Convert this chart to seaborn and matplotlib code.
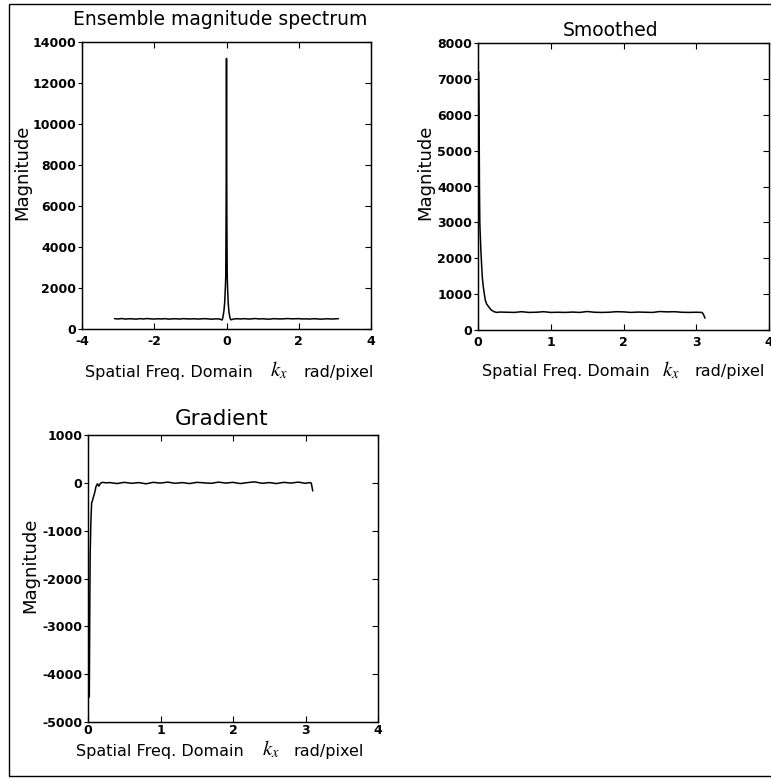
import matplotlib
matplotlib.use('Agg')
import matplotlib.pyplot as plt
import seaborn as sns
from matplotlib.patches import Rectangle

# ---- data ----
# ensemble magnitude spectrum (full band, -pi..pi)
ens_left_x = [-3.1, -3.0, -2.9, -2.8, -2.7, -2.6, -2.5, -2.4, -2.3, -2.2, -2.1, -2.0, -1.9, -1.8,
              -1.7, -1.6, -1.5, -1.4, -1.3, -1.2, -1.1, -1.0, -0.9, -0.8, -0.7, -0.6, -0.5, -0.4, -0.3]
ens_left_y = [505, 490, 510, 485, 500, 495, 480, 505, 490, 510, 495, 485, 500, 490,
              505, 480, 495, 500, 485, 505, 495, 490, 500, 485, 495, 505, 490, 480, 495]
ens_peak_x = [-0.2, -0.15, -0.12, -0.1, -0.07, -0.05, -0.03, -0.02, -0.01, 0.0,
              0.01, 0.02, 0.03, 0.05, 0.07, 0.1, 0.12, 0.15, 0.2]
ens_peak_y = [490, 460, 440, 560, 900, 1300, 2100, 2600, 6000, 13200,
              5500, 2600, 2000, 1200, 800, 520, 450, 460, 490]
ens_right_x = [0.3, 0.4, 0.5, 0.6, 0.7, 0.8, 0.9, 1.0, 1.1, 1.2, 1.3, 1.4, 1.5, 1.6,
               1.7, 1.8, 1.9, 2.0, 2.1, 2.2, 2.3, 2.4, 2.5, 2.6, 2.7, 2.8, 2.9, 3.0, 3.1]
ens_right_y = [500, 490, 505, 485, 495, 510, 490, 500, 485, 480, 505, 495, 490, 500,
               510, 495, 500, 505, 490, 495, 485, 500, 495, 480, 490, 500, 485, 495, 505]

# flat part grid shared by the one-sided curves
flat_x = [0.3, 0.4, 0.5, 0.6, 0.7, 0.8, 0.9, 1.0, 1.1, 1.2, 1.3, 1.4, 1.5, 1.6,
          1.7, 1.8, 1.9, 2.0, 2.1, 2.2, 2.3, 2.4, 2.5, 2.6, 2.7, 2.8, 2.9, 3.0]

# smoothed spectrum
sm_head_x = [0.01, 0.015, 0.02, 0.025, 0.03, 0.04, 0.05, 0.06, 0.07, 0.08,
             0.1, 0.12, 0.15, 0.18, 0.22, 0.26]
sm_head_y = [7200, 6000, 4000, 3000, 2700, 2200, 1800, 1450, 1250, 1100,
             830, 720, 640, 560, 510, 490]
sm_flat_y = [500, 495, 490, 510, 490, 495, 510, 490, 495, 490, 500, 490, 515, 495,
             490, 495, 510, 505, 490, 500, 495, 490, 515, 505, 510, 495, 490, 495]
sm_tail_x = [3.08, 3.1, 3.12]
sm_tail_y = [490, 430, 330]

# gradient of the smoothed spectrum
gr_head_x = [0.018, 0.025, 0.03, 0.04, 0.05, 0.06, 0.07, 0.09, 0.11, 0.13,
             0.15, 0.17, 0.2, 0.25]
gr_head_y = [-4480, -2500, -1500, -800, -420, -380, -320, -220, -80, -20,
             -70, -10, 10, 0]
gr_flat_y = [5, -15, 10, -10, 5, -20, 10, -5, 15, -10, 5, -15, 10, 0,
             -10, 15, -5, 10, -15, 5, 20, -10, 5, -15, 10, -5, 15, -10]
gr_tail_x = [3.05, 3.08, 3.1]
gr_tail_y = [5, -5, -170]

ens_x = ens_left_x + ens_peak_x + ens_right_x
ens_y = ens_left_y + ens_peak_y + ens_right_y
sm_x = sm_head_x + flat_x + sm_tail_x
sm_y = sm_head_y + sm_flat_y + sm_tail_y
gr_x = gr_head_x + flat_x + gr_tail_x
gr_y = gr_head_y + gr_flat_y + gr_tail_y

sns.set_style('ticks')
plt.rcParams['font.family'] = ['DejaVu Sans']
plt.rcParams['mathtext.fontset'] = 'stix'
plt.rcParams['axes.unicode_minus'] = False
for key in ['text.color', 'axes.labelcolor', 'xtick.color', 'ytick.color', 'axes.edgecolor']:
    plt.rcParams[key] = 'black'

fig = plt.figure(figsize=(7.71, 7.78), dpi=100)


def make_panel(rect, x, y, title, title_x, title_pad, title_size, xlim, xticks,
               ylim, yticks, ylabel_pos, xlab_x, xlab_y, xtick_pad):
    ax = fig.add_axes(rect)
    sns.lineplot(x=x, y=y, ax=ax, color='black', linewidth=1.1,
                 estimator=None, sort=False)
    ax.set_xlim(*xlim)
    ax.set_ylim(*ylim)
    ax.set_xticks(xticks)
    ax.set_yticks(yticks)
    ax.set_xticklabels([str(t) for t in xticks], fontweight='bold', fontsize=9)
    ax.set_yticklabels([str(t) for t in yticks], fontweight='bold', fontsize=9)
    ax.tick_params(axis='x', direction='in', top=True, length=4, width=0.8,
                   pad=xtick_pad)
    ax.tick_params(axis='y', direction='out', left=True, right=False, length=3,
                   width=0.8, pad=1)
    # right-hand ticks point inward, as in the original
    twin = ax.twinx()
    twin.set_ylim(*ylim)
    twin.set_yticks(yticks)
    twin.tick_params(axis='y', direction='in', length=4, width=0.8, labelright=False)
    for a in (ax, twin):
        for s in a.spines.values():
            s.set_linewidth(0.9)
    ax.set_title(title, fontsize=title_size, pad=title_pad, x=title_x)
    ax.set_ylabel('Magnitude', fontsize=13)
    ax.yaxis.set_label_coords(*ylabel_pos)
    ax.set_xlabel('')
    # x label in three pieces so that k_x can be larger, as in the original
    pieces = [('Spatial Freq. Domain', 11.5), (r'$k_x$', 15), ('rad/pixel', 11.5)]
    for (txt, size), xf in zip(pieces, xlab_x):
        ax.text(xf, xlab_y, txt, fontsize=size, transform=ax.transAxes,
                ha='left', va='baseline')
    return ax


make_panel([82 / 771, 1 - 329 / 778, 289 / 771, 287 / 778], ens_x, ens_y,
           'Ensemble magnitude spectrum', 0.479, 12, 13.5,
           (-4, 4), [-4, -2, 0, 2, 4], (0, 14000), list(range(0, 14001, 2000)),
           (-0.174, 0.547), (0.010, 0.651, 0.765), -0.166, 4)

make_panel([478 / 771, 1 - 330 / 778, 291 / 771, 287 / 778], sm_x, sm_y,
           'Smoothed', 0.454, 5, 13.5,
           (0, 4), [0, 1, 2, 3, 4], (0, 8000), list(range(0, 8001, 1000)),
           (-0.151, 0.55), (0.014, 0.631, 0.745), -0.160, 4)

make_panel([88 / 771, 1 - 722 / 778, 290 / 771, 287 / 778], gr_x, gr_y,
           'Gradient', 0.46, 7, 15.5,
           (0, 4), [0, 1, 2, 3, 4], (-5000, 1000), list(range(-5000, 1001, 1000)),
           (-0.169, 0.547), (-0.041, 0.6, 0.707), -0.117, 1.5)

# thin frame around the whole figure (right edge runs off the image)
fig.add_artist(Rectangle((9 / 771, 1 - 776 / 778), 1.2, 772 / 778,
                         transform=fig.transFigure, fill=False,
                         edgecolor='black', linewidth=1.0, clip_on=False))

fig.savefig('out.png', dpi=100)
